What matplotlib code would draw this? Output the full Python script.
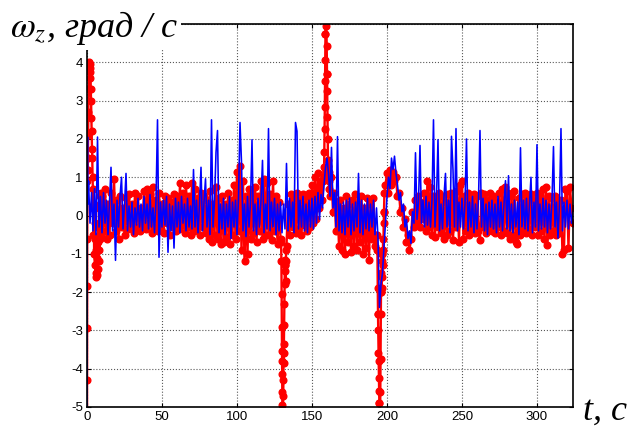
import matplotlib
matplotlib.use("Agg")
import matplotlib.pyplot as plt
import numpy as np

# red series, 1 s samples from t = 10 s
red_grid_start = 10
red_grid = [
    0.5, -0.4, 0.7, -0.6, 0.3, -0.5, 0.6, -0.2, 0.95, -0.4,
    0.4, -0.6, 0.5, -0.3, 0.2, -0.5, 0.45, -0.35, 0.55, -0.2,
    0.3, -0.45, 0.6, -0.3, 0.5, -0.4, 0.2, -0.25, 0.65, -0.35,
    0.7, -0.2, 0.55, -0.45, 0.75, -0.3, 0.4, -0.4, 0.6, -0.35,
    0.3, -0.45, 0.5, -0.2, 0.45, -0.5, 0.35, -0.3, 0.55, -0.4,
    0.5, -0.35, 0.85, -0.25, 0.6, -0.45, 0.8, -0.3, 0.5, -0.5,
    0.85, -0.4, 0.7, -0.25, 0.45, -0.5, 0.6, -0.3, 0.5, -0.45,
    0.4, -0.6, 0.65, -0.7, 0.3, -0.5, 0.75, -0.6, 0.45, -0.75,
    0.5, -0.7, 0.3, -0.55, 0.6, -0.75, 0.4, -0.5, 0.8, -0.6,
    1.15, -0.4, 1.3, -0.9, 0.9, -1.2, 0.5, -1.0, 0.7, -0.6,
    0.6, -0.45, 0.75, -0.7, 0.5, -0.4, 0.9, -0.6, 0.95, -0.5,
    0.85, -0.5, 0.55, -0.65, 0.9, -0.4, 0.5, -0.75, 0.35, -0.6,
    -3.8, -3.6, -1.3, -0.8, 0.3, -0.5, 0.55, -0.3, 0.45, -0.45,
    0.6, -0.35, 0.4, -0.5, 0.55, -0.25, 0.5, -0.4, 0.6, -0.3,
    0.8, -0.2, 1.0, -0.1, 1.1, 0.2, 0.9, 0.4, 1.0, 4.74,
    3.7, 1.0, 0.5, 1.0, 0.1, 0.6, -0.4, 0.3, -0.8, 0.4,
    -0.9, 0.2, -1.0, 0.5, -0.7, 0.3, -0.95, 0.4, -0.8, 0.55,
    -0.9, 0.3, -0.7, 0.5, -1.0, 0.2, -0.85, 0.45, -1.15, 0.3,
    -0.6, 0.45, -0.8, -0.5, -2.56, -4.9, -2.0, -1.0, 0.1, 0.8,
    1.1, 0.6, 1.2, 0.8, 1.15, 0.9, 1.0, 0.5, 0.6, 0.1,
    0.2, -0.3, -0.1, -0.7, -0.5, -0.9, -0.6, 0.1, -0.3, 0.4,
    -0.2, 0.5, -0.3, 0.35, -0.1, 0.6, -0.4, 0.9, -0.3, 0.75,
    -0.5, 0.5, -0.55, 0.4, -0.3, 0.6, -0.45, 0.5, -0.6, 0.35,
    -0.5, 0.55, -0.4, 0.6, -0.65, 0.45, -0.3, 0.65, -0.7, 0.8,
    0.9, -0.6, 0.5, -0.4, 0.6, -0.5, 0.4, -0.35, 0.55, -0.45,
    0.5, -0.4, -0.65, 0.6, -0.3, 0.55, -0.45, 0.4, -0.35, 0.6,
    -0.4, 0.5, -0.45, 0.35, -0.3, 0.6, -0.5, 0.7, -0.4, 0.75,
    -0.45, 0.6, -0.6, 0.5, -0.5, 0.65, -0.7, -0.75, 0.45, -0.5,
    0.55, -0.4, 0.6, -0.45, 0.5, -0.35, 0.55, -0.5, 0.4, -0.3,
    0.6, -0.5, 0.5, -0.4, 0.7, -0.6, 0.75, -0.77, 0.5, -0.5,
    0.45, -0.4, 0.5, -0.5, 0.35, -0.45, 0.4, -1.0, -0.9, 0.7,
    0.65, -0.85, 0.75, 0.2, -0.2,
]

# fast transients of the red series (start, two dives, one peak)
red_start_t = [0.0, 0.03, 0.06, 0.09, 0.15, 0.25, 0.35, 0.5, 0.7, 0.9,
               1.1, 1.3, 1.5, 1.7, 1.9, 2.1, 2.3, 2.5, 2.7, 2.9,
               3.1, 3.3, 3.5, 3.7, 3.9, 4.1, 4.3, 4.5, 4.75, 5.0,
               5.25, 5.5, 5.75, 6.0, 6.25, 6.5, 6.75, 7.0, 7.25, 7.5,
               7.75, 8.0, 8.25, 8.5, 8.75, 9.0, 9.25, 9.5, 9.75]
red_start_v = [-6.0, -4.3, -2.95, -1.85, -0.6, 0.9, 1.5, 1.2, 2.1, 2.7,
               3.3, 3.95, 4.0, 3.75, 3.95, 3.6, 3.85, 3.3, 3.0, 2.55,
               2.2, 1.75, 1.5, 1.0, 0.7, 0.2, -0.5, 0.3, -1.0, -0.2,
               -1.3, -0.6, -1.5, -0.9, -1.6, -1.1, -1.55, -0.7, -1.4, -0.3,
               -1.2, 0.2, -0.9, 0.5, -0.6, 0.3, -0.5, 0.6, -0.2]

dive1_t = [129.4, 129.6, 129.75, 129.85, 129.95, 130.05, 130.15, 130.25,
           130.35, 130.45, 130.6, 130.8, 130.95, 131.1, 131.25, 131.4,
           131.55, 131.7, 131.85, 132.0, 132.2, 132.4, 132.6, 132.8]
dive1_v = [-0.7, -1.2, -2.05, -2.9, -3.55, -4.15, -4.6, -4.95,
           -5.6, -6.5, -5.3, -4.7, -4.3, -3.85, -3.35, -2.85,
           -2.3, -1.78, -1.45, -1.3, -1.15, -1.7, -1.2, -0.9]

peak_t = [157.6, 157.9, 158.2, 158.4, 158.55, 158.7, 158.85, 159.0,
          159.15, 159.3, 159.45, 159.6, 159.8, 160.0, 160.15, 160.3,
          160.45, 160.6, 160.75, 160.9, 161.05, 161.2, 161.4]
peak_v = [0.9, 1.27, 1.65, 2.26, 2.83, 3.52, 4.05, 4.74,
          5.5, 6.5, 5.3, 4.96, 4.44, 3.7, 3.26, 2.57,
          2.0, 1.44, 1.1, 1.3, 0.9, 1.15, 0.7]

dive2_t = [193.3, 193.6, 193.8, 194.0, 194.15, 194.3, 194.45, 194.6,
           194.75, 194.9, 195.05, 195.2, 195.4, 195.55, 195.7, 195.85,
           196.0, 196.2, 196.4, 196.6, 196.8, 197.0, 197.2, 197.4,
           197.6, 197.8, 198.0, 198.3]
dive2_v = [-0.5, -0.9, -1.9, -2.56, -3.0, -3.6, -3.8, -4.25,
           -4.57, -4.9, -5.7, -6.5, -5.6, -4.6, -3.75, -2.56,
           -2.0, -1.5, -1.9, -1.2, -1.6, -1.0, -1.3, -0.6,
           -0.9, -0.2, 0.1, 0.6]

# blue series, 1 s samples from t = 1 s, plus the jump at t = 0
blue_start_t = [0.0, 0.15, 0.35, 0.6]
blue_start_v = [-6.0, 1.5, 2.05, 0.3]
blue_grid_start = 1
blue_grid = [
    0.9, -0.2, 0.6, -0.4, 0.7, -0.5, 2.05, -0.3, 0.5,
    -0.45, 0.6, -0.2, 0.4, -0.5, 0.35, 1.26, -0.4, 0.3, -1.17,
    0.4, -0.3, 0.5, 1.0, -0.35, 0.3, 1.1, -0.4, 0.25, -0.3,
    0.35, -0.5, 0.2, -0.25, 0.45, -0.3, 0.3, -0.4, 0.5, -0.2,
    0.3, -0.35, 0.55, -0.3, 0.2, -0.45, 0.4, 2.5, -1.09, 0.35,
    -0.3, 0.4, -0.25, 0.5, -0.96, 0.3, -0.4, 0.25, -0.85, 0.45,
    -0.3, 0.35, -0.45, 0.5, -0.2, 0.3, -0.4, 0.45, -0.3, 0.25,
    -0.35, 1.2, -0.3, 0.4, -0.45, 0.3, 1.26, -0.4, 0.35, 0.96,
    -0.3, 0.4, -0.5, 2.5, -0.3, 0.35, 1.65, 2.22, -0.45, 0.3,
    -0.35, 0.45, -0.5, 0.3, -0.3, 0.5, -0.6, 0.35, -0.3, 0.4,
    -0.5, 0.45, 2.43, 1.39, -0.4, 0.3, -0.55, 0.5, -0.3, 0.35,
    1.98, -0.4, 0.3, -0.5, 0.45, -0.3, 0.4, 1.44, -0.45, 0.3,
    -0.35, 2.27, -0.4, 0.35, -0.3, 0.45, -0.5, 0.3, -0.4, 0.35,
    -0.45, 0.3, -0.35, 1.36, -0.4, 0.45, -0.3, 0.35, -0.45, 2.43,
    2.2, -0.35, 0.4, -0.3, 0.5, -0.4, 0.3, -0.45, 0.4, -0.3,
    0.45, -0.35, 0.5, -0.2, 0.6, -0.1, 0.55, 0.2, 0.8, 1.25,
    1.5, 1.1, 0.5, 1.78, 0.2, 0.6, -0.3, 2.06, -0.4, 0.3,
    -0.45, 0.35, -0.5, 0.4, -0.3, 0.45, -0.5, 0.3, -0.4, 0.35,
    -0.3, 1.1, -0.45, 0.4, -0.5, 0.3, -0.35, 0.45, -0.4, 0.3,
    -0.3, 0.4, -0.5, 0.2, -0.6, -2.4, -1.8, -1.5, -0.8, -0.2,
    0.5, 1.0, 0.7, 1.5, 1.2, 1.55, 1.1, 0.8, 0.4, 0.6,
    0.1, 0.3, -0.3, -0.1, -0.6, -0.4, -0.73, 0.1, -0.2, 1.64,
    -0.1, 0.35, 1.83, -0.2, 0.4, -0.3, 0.5, -0.25, 0.35, -0.3,
    0.4, 2.5, -0.3, 0.45, 1.98, -0.4, 0.3, -0.35, 0.5, 1.1,
    -0.3, 0.4, -0.45, 2.07, 1.2, -0.3, 2.27, -0.4, 0.35, -0.3,
    0.45, -0.35, 0.3, 2.0, -0.4, 0.35, -0.3, 0.5, -0.45, 0.3,
    -0.35, 0.4, 2.22, -0.3, 0.45, -0.4, 0.3, -0.5, 0.35, -0.3,
    0.4, -0.35, 0.3, -0.45, 0.5, -0.3, 0.35, -0.4, 0.3, 0.91,
    -0.35, 1.04, -0.4, 0.3, -0.45, 0.4, -0.3, 0.35, -0.5, 1.77,
    -0.3, 0.4, -0.35, 0.45, -0.4, 0.3, 1.0, -0.45, 0.35, -0.3,
    1.85, -0.4, 0.3, -0.35, 0.45, -0.3, 0.4, -0.45, 0.3, -0.35,
    0.4, 1.8, -0.3, 0.35, -0.59, 0.3, 2.27, -0.4, 0.35, -0.3,
    0.4, -0.35, 0.3, -0.2, 0.1,
]

x_ticks = [0, 50, 100, 150, 200, 250, 300]
y_ticks = [-5, -4, -3, -2, -1, 0, 1, 2, 3, 4, 5]
# the label box hides the "5" at the top
y_tick_labels = ["-5", "-4", "-3", "-2", "-1", "0", "1", "2", "3", "4", ""]


def merge(grid_start, grid, *pieces):
    t = [np.arange(len(grid)) + grid_start]
    v = [np.asarray(grid, dtype=float)]
    for pt, pv in pieces:
        t.append(np.asarray(pt, dtype=float))
        v.append(np.asarray(pv, dtype=float))
    t = np.concatenate(t)
    v = np.concatenate(v)
    order = np.argsort(t, kind="stable")
    return t[order], v[order]


red_t, red_v = merge(red_grid_start, red_grid,
                     (red_start_t, red_start_v), (dive1_t, dive1_v),
                     (peak_t, peak_v), (dive2_t, dive2_v))
blue_t, blue_v = merge(blue_grid_start, blue_grid, (blue_start_t, blue_start_v))

fig = plt.figure(figsize=(6.37, 4.30), dpi=100)
ax = fig.add_axes([0.1366, 0.0535, 0.7629, 0.8905])

ax.plot(red_t, red_v, color="#ff0000", lw=1.7, marker="o", ms=4.8,
        mec="#ff0000", mfc="#ff0000")
ax.plot(blue_t, blue_v, color="#0000ff", lw=1.15)

ax.set_xlim(0, 324)
ax.set_ylim(-5, 5)
ax.set_xticks(x_ticks)
ax.set_yticks(y_ticks)
ax.set_yticklabels(y_tick_labels)
ax.grid(True, linestyle=":", color="0.35", linewidth=0.8)
ax.tick_params(direction="in", length=3, top=True, right=True,
               labelsize=9.5, pad=3, colors="black")
for lab in ax.get_xticklabels() + ax.get_yticklabels():
    lab.set_family("Liberation Sans")
for sp in ax.spines.values():
    sp.set_linewidth(1.2)

plt.rcParams["mathtext.fontset"] = "stix"
fig.text(10 / 637, 1 - 37 / 430, r"$\omega_z$, град / с",
         family="Liberation Serif", style="italic", fontsize=26,
         va="baseline", ha="left",
         bbox=dict(facecolor="white", edgecolor="none", pad=2))
fig.text(583 / 637, 1 - 420 / 430, "t, c",
         family="Liberation Serif", style="italic", fontsize=26,
         va="baseline", ha="left")

fig.savefig("out.png", dpi=100)
